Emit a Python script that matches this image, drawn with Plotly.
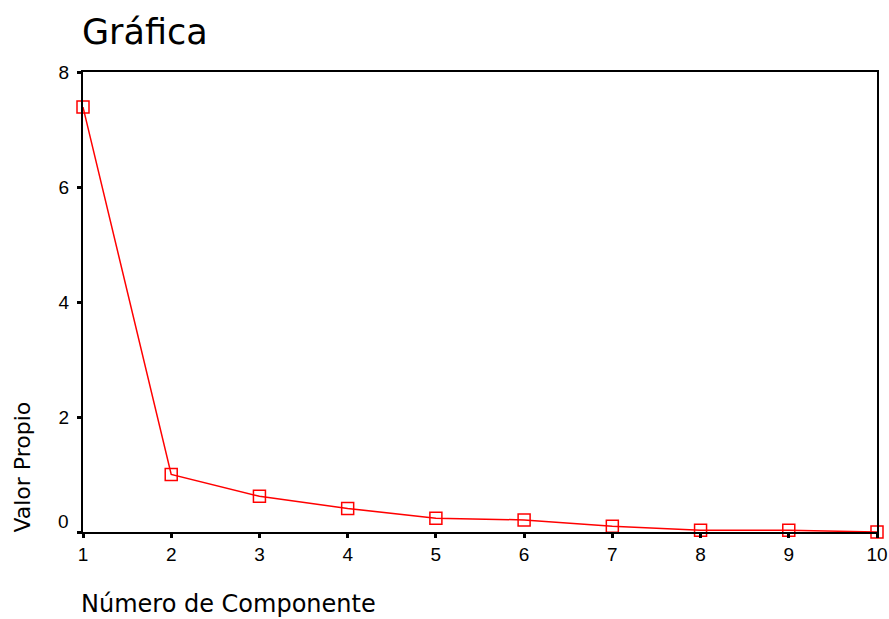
import plotly.graph_objects as go

componentes = [1, 2, 3, 4, 5, 6, 7, 8, 9, 10]
valores = [7.39, 1.00, 0.62, 0.41, 0.24, 0.21, 0.10, 0.03, 0.03, 0.00]
y_ticks = [0, 2, 4, 6, 8]
y_ticktext = ["0", "2", "4", "6", "8"]

fig = go.Figure()
fig.add_trace(go.Scatter(
    x=componentes, y=valores, mode="lines+markers",
    line=dict(color="#ff0000", width=1.5),
    marker=dict(symbol="square-open", size=12, color="#ff0000", line=dict(width=1.5)),
    cliponaxis=False, showlegend=False,
))

font = "Liberation Sans, Arial, sans-serif"
wide = "DejaVu Sans, sans-serif"
fig.update_layout(
    width=889, height=619,
    margin=dict(l=83, r=12, t=72, b=87, autoexpand=False),
    paper_bgcolor="white", plot_bgcolor="white",
    font=dict(family=font, color="black", size=19),
    xaxis=dict(range=[1, 10], tickvals=componentes, ticks="outside", ticklen=4, tickwidth=3,
               tickcolor="black", showline=True, linecolor="black", linewidth=2, mirror=True,
               showgrid=False, zeroline=False, tickfont=dict(size=19), automargin=False),
    yaxis=dict(range=[0, 8], tickvals=y_ticks,
               ticktext=[("" if v == 0 else t) for v, t in zip(y_ticks, y_ticktext)],
               ticks="outside", ticklen=4, tickwidth=3, ticklabelstandoff=4,
               tickcolor="black", showline=True, linecolor="black", linewidth=2, mirror=True,
               showgrid=False, zeroline=False, tickfont=dict(size=19), automargin=False),
)
# the "0" label sits a little above its tick, as in the reference
fig.add_annotation(text=y_ticktext[0], xref="paper", yref="y", x=0, y=y_ticks[0],
                   xanchor="right", yanchor="bottom", xshift=-12, yshift=-2, showarrow=False,
                   font=dict(size=19, family=font))
fig.add_annotation(text="Gráfica", xref="paper", yref="paper", x=0, y=1.0,
                   xanchor="left", yanchor="bottom", yshift=18, xshift=-3, showarrow=False,
                   font=dict(size=35, family=wide))
fig.add_annotation(text="Valor Propio", xref="paper", yref="paper", x=0, y=0.14,
                   xanchor="center", yanchor="middle", xshift=-60, textangle=-90, showarrow=False,
                   font=dict(size=22, family=wide))
fig.add_annotation(text="Número de Componente", xref="paper", yref="paper", x=0, y=0,
                   xanchor="left", yanchor="middle", yshift=-72, xshift=-3, showarrow=False,
                   borderpad=0, font=dict(size=24, family=wide))

fig.write_html("out.html")
